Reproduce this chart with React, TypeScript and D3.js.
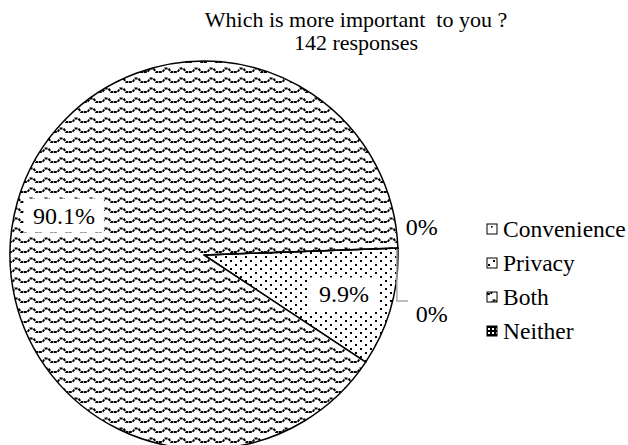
import React from "react";
import * as d3 from "d3";

// Survey answers: "Which is more important to you?" (142 responses)
const categories = ["Convenience", "Privacy", "Both", "Neither"];
const shares = [0, 9.9, 90.1, 0];
const patternIds = ["pat-conv", "pat-priv", "pat-both", "pat-neither"];
const titleLines = ["Which is more important  to you ?", "142 responses"];

const W = 628;
const H = 445;
const cx = 204;
const cy = 255;
const R = 194;
const FONT = "Liberation Serif, Times New Roman, Times, serif";
const textStyle = { fontFamily: FONT, whiteSpace: "pre" as const };
// first slice begins just above the 3 o'clock position
const START = (87.9 * Math.PI) / 180;

const pie = d3
  .pie<number>()
  .sort(null)
  .value((d) => d)
  .startAngle(START)
  .endAngle(START + 2 * Math.PI);

const arc = d3.arc<d3.PieArcDatum<number>>().innerRadius(0).outerRadius(R);

const pct = (v: number) => `${v}%`;

function pointAt(angle: number, r: number): [number, number] {
  return [Math.sin(angle) * r, -Math.cos(angle) * r];
}

function Patterns() {
  return (
    <defs>
      {/* Convenience: sparse dots */}
      <pattern id="pat-conv" width="8" height="8" patternUnits="userSpaceOnUse">
        <rect width="8" height="8" fill="#fff" />
        <rect x="4" y="5" width="1.6" height="1.6" fill="#000" />
      </pattern>
      {/* Privacy: scattered dots */}
      <pattern id="pat-priv" width="10" height="8" patternUnits="userSpaceOnUse">
        <rect width="10" height="8" fill="#fff" />
        <rect x="1" y="1" width="2" height="2" fill="#000" />
        <rect x="6" y="5" width="2" height="2" fill="#000" />
      </pattern>
      {/* Both: dotted waves */}
      <pattern id="pat-both" width="15" height="10" patternUnits="userSpaceOnUse">
        <rect width="15" height="10" fill="#fff" />
        <path
          d="M0,7 L3.5,7 L6,3.5 L9.5,3.5 L12,7 L15,7"
          fill="none"
          stroke="#000"
          strokeWidth="2"
          strokeDasharray="2.8,1"
        />
      </pattern>
      {/* Neither: grid of blocks */}
      <pattern id="pat-neither" width="4" height="4" patternUnits="userSpaceOnUse">
        <rect width="4" height="4" fill="#000" />
        <rect x="1" y="1" width="2" height="2" fill="#fff" />
      </pattern>
    </defs>
  );
}

export default function App() {
  const arcs = pie(shares);
  const labelR = R * 0.75;

  return (
    <svg
      width={W}
      height={H}
      viewBox={`0 0 ${W} ${H}`}
      style={{ position: "absolute", left: 0, top: 0, background: "#fff" }}
    >
      <Patterns />
      <rect width={W} height={H} fill="#fff" />

      {/* title */}
      <text x={356} y={27} textAnchor="middle" fontSize={22} fill="#000" style={textStyle}>
        {titleLines[0]}
      </text>
      <text x={356} y={50} textAnchor="middle" fontSize={22} fill="#000" style={textStyle}>
        {titleLines[1]}
      </text>

      <g transform={`translate(${cx},${cy})`}>
        {arcs.map((a, i) => (
          <path
            key={categories[i]}
            d={arc(a) || ""}
            fill={`url(#${patternIds[i]})`}
            stroke="#000"
            strokeWidth={1.5}
            strokeLinejoin="round"
          />
        ))}

        {/* labels inside the visible slices */}
        {arcs.map((a, i) => {
          if (a.value === 0) return null;
          const mid = (a.startAngle + a.endAngle) / 2;
          const [x, y] = pointAt(mid, labelR);
          const text = pct(shares[i]);
          const w = text.length * 12 + 20;
          return (
            <g key={`lbl-${i}`} transform={`translate(${x},${y})`}>
              <rect x={-w / 2} y={-17} width={w} height={34} fill="#fff" />
              <text x={0} y={8} textAnchor="middle" fontSize={24} fill="#000" style={textStyle}>
                {text}
              </text>
            </g>
          );
        })}

        {/* labels for empty slices, placed outside the rim */}
        {(() => {
          const a0 = arcs[0];
          const [x0, y0] = pointAt(a0.startAngle, R);
          const a3 = arcs[3];
          const [x3, y3] = pointAt(a3.endAngle, R);
          return (
            <g>
              <text x={x0 + 24} y={y0 - 13} textAnchor="middle" fontSize={24} fill="#000" style={textStyle}>
                {pct(shares[0])}
              </text>
              <polyline
                points={`${x3 - 1},${y3 + 1} ${x3 - 1},${y3 + 53} ${x3 + 10},${y3 + 53}`}
                fill="none"
                stroke="#a6a6a6"
                strokeWidth={1.5}
              />
              <text x={x3 + 34} y={y3 + 74} textAnchor="middle" fontSize={24} fill="#000" style={textStyle}>
                {pct(shares[3])}
              </text>
            </g>
          );
        })()}
      </g>

      {/* legend */}
      <g transform="translate(487,229)">
        {categories.map((c, i) => (
          <g key={c} transform={`translate(0,${i * 34})`}>
            <rect
              x={0}
              y={-5}
              width={10}
              height={10}
              fill={`url(#${patternIds[i]})`}
              stroke="#000"
              strokeWidth={1}
            />
            <text x={16} y={8} fontSize={23.5} fill="#000" style={textStyle}>
              {c}
            </text>
          </g>
        ))}
      </g>
    </svg>
  );
}
